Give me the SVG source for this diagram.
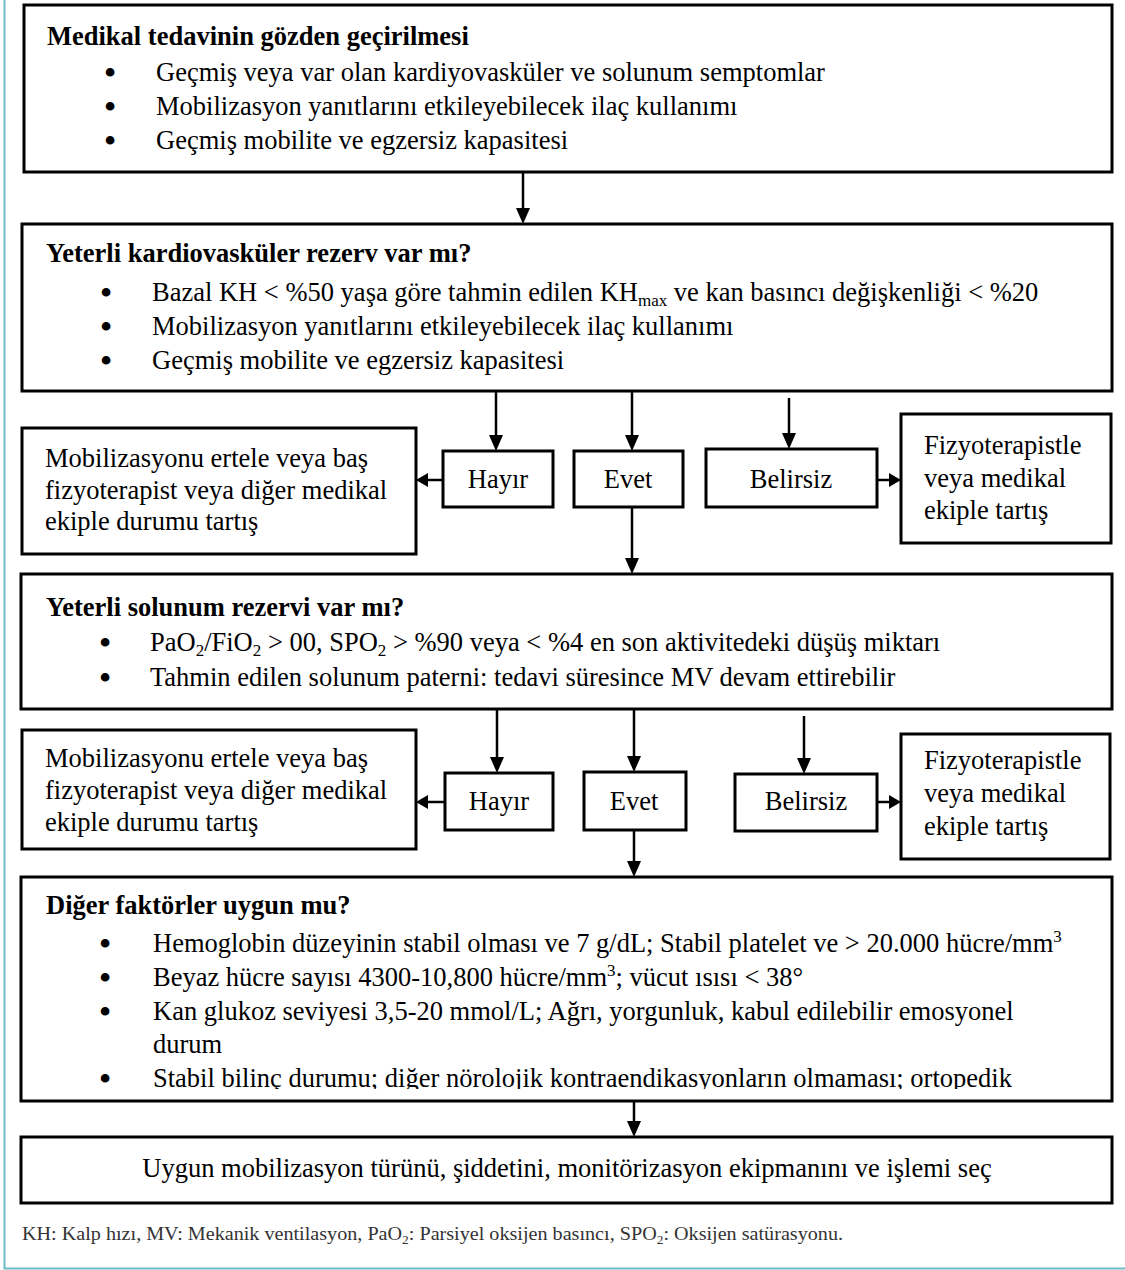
<svg xmlns="http://www.w3.org/2000/svg" width="1125" height="1270" viewBox="0 0 1125 1270">
<style>
.box{fill:#fff;stroke:#000;stroke-width:3}
.t{font-family:"Liberation Serif","Times New Roman",serif;font-size:26.5px;fill:#000}
.b{font-weight:bold}
.c{text-anchor:middle}
.bu{font-size:32px;font-weight:bold}
.sm{font-size:17px}
.fn{font-family:"Liberation Serif","Times New Roman",serif;font-size:18px;fill:#333}
.fns{font-size:12px}
.conn line{stroke:#000;stroke-width:2.5;fill:none}
.frame{stroke:#6bbdc3;stroke-width:2;fill:none}
</style>
<defs>
<marker id="ah" viewBox="0 0 16 14" refX="0" refY="7" markerWidth="16" markerHeight="14" markerUnits="userSpaceOnUse" orient="auto">
<path d="M0,0 L16,7 L0,14 z" fill="#000"/>
</marker>
<marker id="ahs" viewBox="0 0 12 14" refX="0" refY="7" markerWidth="12" markerHeight="14" markerUnits="userSpaceOnUse" orient="auto">
<path d="M0,0 L12,7 L0,14 z" fill="#000"/>
</marker>
<clipPath id="clip4"><rect x="22" y="878" width="1089" height="211"/></clipPath>
</defs>
<rect width="1125" height="1270" fill="#fff"/>
<path class="frame" d="M4.5,0 V1268.5 H1125"/>

<g id="connectors" class="conn">
<line x1="523" y1="172" x2="523" y2="208" marker-end="url(#ah)"/>
<line x1="496" y1="391" x2="496" y2="435" marker-end="url(#ah)"/>
<line x1="632" y1="391" x2="632" y2="435" marker-end="url(#ah)"/>
<line x1="789" y1="398" x2="789" y2="433" marker-end="url(#ah)"/>
<line x1="443" y1="480" x2="428" y2="480" marker-end="url(#ahs)"/>
<line x1="877" y1="480" x2="889" y2="480" marker-end="url(#ahs)"/>
<line x1="632" y1="507" x2="632" y2="558" marker-end="url(#ah)"/>
<line x1="497" y1="709" x2="497" y2="757" marker-end="url(#ah)"/>
<line x1="634" y1="709" x2="634" y2="756" marker-end="url(#ah)"/>
<line x1="804" y1="716" x2="804" y2="758" marker-end="url(#ah)"/>
<line x1="445" y1="802" x2="428" y2="802" marker-end="url(#ahs)"/>
<line x1="877" y1="802" x2="889" y2="802" marker-end="url(#ahs)"/>
<line x1="634" y1="830" x2="634" y2="861" marker-end="url(#ah)"/>
<line x1="634" y1="1101" x2="634" y2="1121" marker-end="url(#ah)"/>
</g>

<g id="n1">
<rect class="box" x="24" y="5" width="1088" height="167"/>
<text class="t b" x="47" y="45">Medikal tedavinin gözden geçirilmesi</text>
<text class="t c bu" x="110" y="83">•</text>
<text class="t" x="156" y="81">Geçmiş veya var olan kardiyovasküler ve solunum semptomlar</text>
<text class="t c bu" x="110" y="117">•</text>
<text class="t" x="156" y="115">Mobilizasyon yanıtlarını etkileyebilecek ilaç kullanımı</text>
<text class="t c bu" x="110" y="151">•</text>
<text class="t" x="156" y="149">Geçmiş mobilite ve egzersiz kapasitesi</text>
</g>

<g id="n2">
<rect class="box" x="22" y="224" width="1090" height="167"/>
<text class="t b" x="46" y="262">Yeterli kardiovasküler rezerv var mı?</text>
<text class="t c bu" x="106" y="303">•</text>
<text class="t" x="152" y="301">Bazal KH &lt; %50 yaşa göre tahmin edilen KH<tspan class="sm" dy="5">max</tspan><tspan dy="-5"> ve kan basıncı değişkenliği &lt; %20</tspan></text>
<text class="t c bu" x="106" y="337">•</text>
<text class="t" x="152" y="335">Mobilizasyon yanıtlarını etkileyebilecek ilaç kullanımı</text>
<text class="t c bu" x="106" y="371">•</text>
<text class="t" x="152" y="369">Geçmiş mobilite ve egzersiz kapasitesi</text>
</g>

<g id="n_left1">
<rect class="box" x="22" y="428" width="394" height="126"/>
<text class="t" x="45" y="467">Mobilizasyonu ertele veya baş</text>
<text class="t" x="45" y="499">fizyoterapist veya diğer medikal</text>
<text class="t" x="45" y="530">ekiple durumu tartış</text>
</g>
<g id="n_hayir1">
<rect class="box" x="443" y="451" width="110" height="56"/>
<text class="t c" x="498" y="488">Hayır</text>
</g>
<g id="n_evet1">
<rect class="box" x="574" y="451" width="109" height="56"/>
<text class="t c" x="628" y="488">Evet</text>
</g>
<g id="n_belirsiz1">
<rect class="box" x="706" y="449" width="171" height="58"/>
<text class="t c" x="791" y="488">Belirsiz</text>
</g>
<g id="n_right1">
<rect class="box" x="901" y="414" width="210" height="129"/>
<text class="t" x="924" y="454">Fizyoterapistle</text>
<text class="t" x="924" y="487">veya medikal</text>
<text class="t" x="924" y="519">ekiple tartış</text>
</g>

<g id="n3">
<rect class="box" x="21" y="574" width="1091" height="135"/>
<text class="t b" x="46" y="616">Yeterli solunum rezervi var mı?</text>
<text class="t c bu" x="105" y="653">•</text>
<text class="t" x="150" y="651">PaO<tspan class="sm" dy="5">2</tspan><tspan dy="-5">/FiO</tspan><tspan class="sm" dy="5">2</tspan><tspan dy="-5"> &gt; 00, SPO</tspan><tspan class="sm" dy="5">2</tspan><tspan dy="-5"> &gt; %90 veya &lt; %4 en son aktivitedeki düşüş miktarı</tspan></text>
<text class="t c bu" x="105" y="688">•</text>
<text class="t" x="150" y="686">Tahmin edilen solunum paterni: tedavi süresince MV devam ettirebilir</text>
</g>

<g id="n_left2">
<rect class="box" x="22" y="730" width="394" height="119"/>
<text class="t" x="45" y="767">Mobilizasyonu ertele veya baş</text>
<text class="t" x="45" y="799">fizyoterapist veya diğer medikal</text>
<text class="t" x="45" y="831">ekiple durumu tartış</text>
</g>
<g id="n_hayir2">
<rect class="box" x="445" y="773" width="108" height="57"/>
<text class="t c" x="499" y="810">Hayır</text>
</g>
<g id="n_evet2">
<rect class="box" x="584" y="772" width="102" height="58"/>
<text class="t c" x="634" y="810">Evet</text>
</g>
<g id="n_belirsiz2">
<rect class="box" x="735" y="774" width="142" height="57"/>
<text class="t c" x="806" y="810">Belirsiz</text>
</g>
<g id="n_right2">
<rect class="box" x="901" y="734" width="209" height="125"/>
<text class="t" x="924" y="769">Fizyoterapistle</text>
<text class="t" x="924" y="802">veya medikal</text>
<text class="t" x="924" y="835">ekiple tartış</text>
</g>

<g id="n4">
<rect class="box" x="21" y="877" width="1091" height="224"/>
<g clip-path="url(#clip4)">
<text class="t b" x="46" y="914">Diğer faktörler uygun mu?</text>
<text class="t c bu" x="105" y="954">•</text>
<text class="t" x="153" y="952">Hemoglobin düzeyinin stabil olması ve 7 g/dL; Stabil platelet ve &gt; 20.000 hücre/mm<tspan class="sm" dy="-10">3</tspan></text>
<text class="t c bu" x="105" y="988">•</text>
<text class="t" x="153" y="986">Beyaz hücre sayısı 4300-10,800 hücre/mm<tspan class="sm" dy="-10">3</tspan><tspan dy="10">; vücut ısısı &lt; 38°</tspan></text>
<text class="t c bu" x="105" y="1022">•</text>
<text class="t" x="153" y="1020">Kan glukoz seviyesi 3,5-20 mmol/L; Ağrı, yorgunluk, kabul edilebilir emosyonel</text>
<text class="t" x="153" y="1053">durum</text>
<text class="t c bu" x="105" y="1089">•</text>
<text class="t" x="153" y="1087">Stabil bilinç durumu; diğer nörolojik kontraendikasyonların olmaması; ortopedik</text>
</g>
</g>

<g id="n5">
<rect class="box" x="21" y="1137" width="1091" height="66"/>
<text class="t c" x="567" y="1177">Uygun mobilizasyon türünü, şiddetini, monitörizasyon ekipmanını ve işlemi seç</text>
</g>

<text class="fn" x="22" y="1240" textLength="821" lengthAdjust="spacingAndGlyphs">KH: Kalp hızı, MV: Mekanik ventilasyon, PaO<tspan class="fns" dy="4">2</tspan><tspan dy="-4">: Parsiyel oksijen basıncı, SPO</tspan><tspan class="fns" dy="4">2</tspan><tspan dy="-4">: Oksijen satürasyonu.</tspan></text>
</svg>
